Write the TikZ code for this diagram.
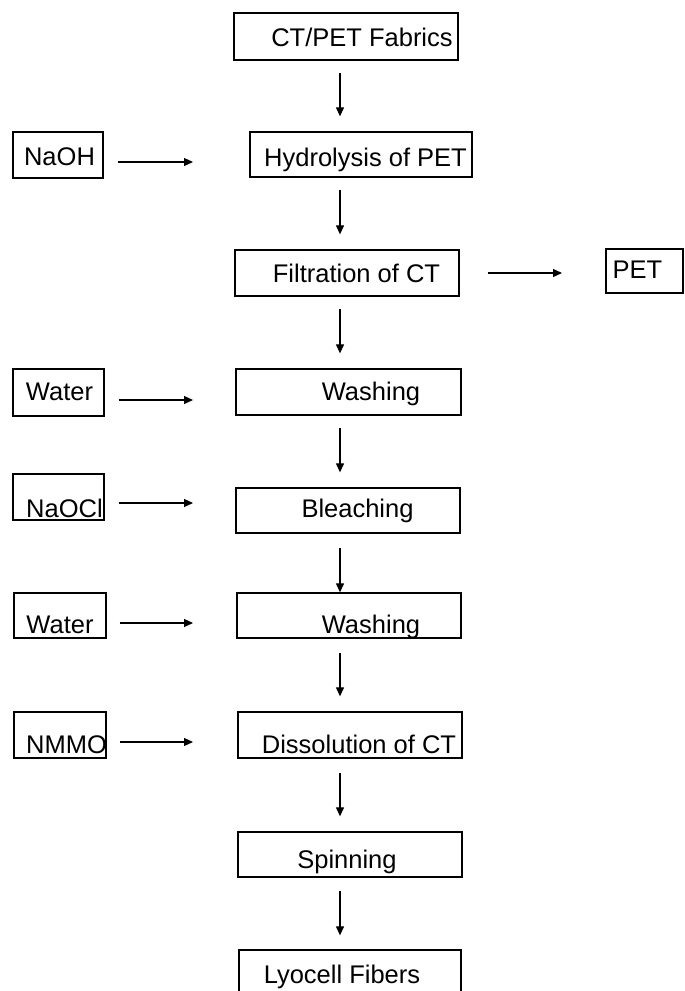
\documentclass[tikz,border=0pt]{standalone}
\usepackage{fontspec}
\setmainfont{Liberation Sans}
\usetikzlibrary{arrows.meta}
\begin{document}
\begin{tikzpicture}[x=1pt,y=-1pt,
  box/.style={draw, rectangle, line width=1.3pt, inner sep=0pt},
  lbl/.style={anchor=base, inner sep=0pt, font=\fontsize{25.5}{30}\selectfont},
  flow/.style={line width=1.2pt, -{Triangle[length=9pt,width=8pt]}}]
\useasboundingbox[fill=white] (0,0) rectangle (685,991);
% boxes
\node[box, minimum width=224pt, minimum height=47pt] (ct) at (346,36.5) {};
\node[box, minimum width=90pt, minimum height=46pt] (naoh) at (58,155) {};
\node[box, minimum width=222pt, minimum height=45pt] (hyd) at (361,154.5) {};
\node[box, minimum width=224pt, minimum height=46pt] (filt) at (347,273) {};
\node[box, minimum width=77pt, minimum height=44pt] (pet) at (644.5,271) {};
\node[box, minimum width=91pt, minimum height=47pt] (water1) at (58.5,392.5) {};
\node[box, minimum width=225pt, minimum height=46pt] (wash1) at (348.5,392) {};
\node[box, minimum width=91pt, minimum height=46pt] (naocl) at (58.5,497) {};
\node[box, minimum width=224pt, minimum height=45pt] (bleach) at (348,510.5) {};
\node[box, minimum width=92pt, minimum height=45pt] (water2) at (60,615.5) {};
\node[box, minimum width=224pt, minimum height=45pt] (wash2) at (349,615.5) {};
\node[box, minimum width=92pt, minimum height=46pt] (nmmo) at (60,735) {};
\node[box, minimum width=224pt, minimum height=46pt] (diss) at (350,735) {};
\node[box, minimum width=224pt, minimum height=45pt] (spin) at (350,854.5) {};
\node[box, minimum width=222pt, minimum height=60pt] (lyo) at (350,980) {};
% texts
\node[lbl] (tct) at (362,46) {CT/PET Fabrics};
\node[lbl] (tnaoh) at (59.5,165) {NaOH};
\node[lbl] (thyd) at (365.5,166.5) {Hydrolysis of PET};
\node[lbl] (tfilt) at (356.5,282) {Filtration of CT};
\node[lbl] (tpet) at (637.5,278) {PET};
\node[lbl] (twater1) at (59.5,400) {Water};
\node[lbl] (twash1) at (371,400) {Washing};
\node[lbl] (tnaocl) at (64.5,517) {NaOCl};
\node[lbl] (tbleach) at (357.5,517) {Bleaching};
\node[lbl] (twater2) at (60,633) {Water};
\node[lbl] (twash2) at (371,633) {Washing};
\node[lbl] (tnmmo) at (66.5,753) {NMMO};
\node[lbl] (tdiss) at (359,753) {Dissolution of CT};
\node[lbl] (tspin) at (347,868) {Spinning};
\node[lbl] (tlyo) at (342,983) {Lyocell Fibers};
% helper coordinates
\coordinate (vx) at (340,0);
\coordinate (hx) at (193,0);
\coordinate (px) at (562,0);
% vertical flow
\draw[flow, shorten <=12pt, shorten >=15pt] (ct.south -| vx) -- (hyd.north -| vx);
\draw[flow, shorten <=12pt, shorten >=15pt] (hyd.south -| vx) -- (filt.north -| vx);
\draw[flow, shorten <=12pt, shorten >=15pt] (filt.south -| vx) -- (wash1.north -| vx);
\draw[flow, shorten <=12pt, shorten >=15pt] (wash1.south -| vx) -- (bleach.north -| vx);
\draw[flow, shorten <=14pt, shorten >=0pt] (bleach.south -| vx) -- (wash2.north -| vx);
\draw[flow, shorten <=14pt, shorten >=15pt] (wash2.south -| vx) -- (diss.north -| vx);
\draw[flow, shorten <=14pt, shorten >=15pt] (diss.south -| vx) -- (spin.north -| vx);
\draw[flow, shorten <=13pt, shorten >=14pt] (spin.south -| vx) -- (lyo.north -| vx);
% side inputs
\draw[flow, shorten <=14pt] ([yshift=-7pt]naoh.east) -- ([yshift=-7pt]naoh.east -| hx);
\draw[flow, shorten <=14pt] ([yshift=-7.5pt]water1.east) -- ([yshift=-7.5pt]water1.east -| hx);
\draw[flow, shorten <=14pt] ([yshift=-6pt]naocl.east) -- ([yshift=-6pt]naocl.east -| hx);
\draw[flow, shorten <=13pt] ([yshift=-7.5pt]water2.east) -- ([yshift=-7.5pt]water2.east -| hx);
\draw[flow, shorten <=13pt] ([yshift=-7pt]nmmo.east) -- ([yshift=-7pt]nmmo.east -| hx);
% output
\draw[flow, shorten <=28pt] (filt.east) -- (filt.east -| px);
\end{tikzpicture}
\end{document}
